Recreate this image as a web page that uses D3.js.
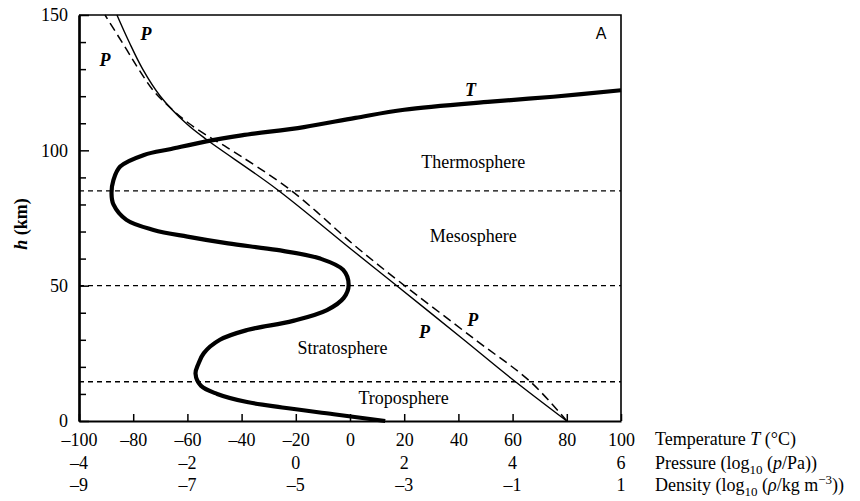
<!DOCTYPE html>
<html>
<head>
<meta charset="utf-8">
<script src="https://cdn.jsdelivr.net/npm/d3@7"></script>
<style>
  body { margin: 0; background: #fff; }
  text { font-family: "Liberation Serif", "Times New Roman", serif; fill: #000; }
</style>
</head>
<body>
<div id="chart"></div>
<script>
// chart values

// temperature profile (thick curve): altitude in km, temperature in degC
var tempAlt = [0, 2.5, 5, 7, 10, 13, 17.5, 21, 25, 30, 33.6, 37, 41, 45.5, 50.2, 55.8, 60, 63.2, 65.6, 68.1, 70.6, 74.3, 80, 84, 89, 94, 98.3, 100.5, 103.3, 105.5, 108.6, 112, 115, 118, 119.8, 122.2];
var tempVal = [13, -6, -25, -38, -49, -55, -57, -56, -54, -48, -38, -21, -8.5, -2.3, -0.5, -2.5, -11, -27, -45, -60, -72.5, -82.5, -87.3, -88, -87.3, -84.8, -76, -66, -53, -40, -17, 2, 20, 52, 75, 100];

// solid P curve
var solidAlt = [0, 15.9, 30, 51, 63, 86, 103.8, 110, 120, 130, 140, 150];
var solidVal = [80, 59.3, 42, 16, 1, -27.5, -52.7, -60.5, -70, -76.5, -81.5, -86];

// dashed P curve
var dashAlt = [0, 14.4, 30, 52, 65, 85, 101, 105, 110, 115, 122, 130, 137, 150];
var dashVal = [80, 66.7, 46.3, 17.6, 1.5, -21.5, -45.3, -52, -59.5, -65.5, -72.5, -78, -82.3, -90.4];

// layer boundaries (km)
var boundaries = [14.5, 50, 85];

// layer names
var layerNames = ["Troposphere", "Stratosphere", "Mesosphere", "Thermosphere"];
var layerT = [19.8, -2.8, 45.5, 45.5];
var layerH = [6.3, 24.7, 66, 93.5];

// tick labels
var tempTicks = [-100, -80, -60, -40, -20, 0, 20, 40, 60, 80, 100];
var pressureTicks = [-4, -2, 0, 2, 4, 6];
var densityTicks = [-9, -7, -5, -3, -1, 1];
var heightTicks = [0, 50, 100, 150];
var heightMinor = [10, 20, 30, 40, 60, 70, 80, 90, 110, 120, 130, 140];

// set svg and dimensions
var svgWidth = 860;
var svgHeight = 501;
var chartMargin = { top: 15, right: 239, bottom: 80, left: 79 };
var chartWidth = svgWidth - chartMargin.left - chartMargin.right;
var chartHeight = svgHeight - chartMargin.top - chartMargin.bottom;

var svg = d3.select("#chart")
    .append("svg")
    .attr("width", svgWidth)
    .attr("height", svgHeight);

var chartGroup = svg.append("g")
    .attr("transform", `translate(${chartMargin.left}, ${chartMargin.top})`);

// scales
var xScale = d3.scaleLinear().domain([-100, 100]).range([0, chartWidth]);
var pScale = d3.scaleLinear().domain([-4, 6]).range([0, chartWidth]);
var dScale = d3.scaleLinear().domain([-9, 1]).range([0, chartWidth]);
var yScale = d3.scaleLinear().domain([0, 150]).range([chartHeight, 0]);

var minus = d => d < 0 ? "\u2013" + Math.abs(d) : "" + d;

// dashed layer boundaries
chartGroup.selectAll(".boundary")
    .data(boundaries)
    .enter()
    .append("line")
    .attr("x1", 0)
    .attr("x2", chartWidth)
    .attr("y1", d => yScale(d))
    .attr("y2", d => yScale(d))
    .attr("stroke", "#000")
    .attr("stroke-width", 1.3)
    .attr("stroke-dasharray", "5,4");

// profile lines, altitude on y
function profile(alt, val) {
    return d3.line()
        .x((d, i) => xScale(val[i]))
        .y(d => yScale(d))
        .curve(d3.curveCatmullRom.alpha(0.5))(alt);
}

chartGroup.append("path")
    .attr("d", profile(dashAlt, dashVal))
    .attr("fill", "none")
    .attr("stroke", "#000")
    .attr("stroke-width", 1.5)
    .attr("stroke-dasharray", "9,5");

chartGroup.append("path")
    .attr("d", profile(solidAlt, solidVal))
    .attr("fill", "none")
    .attr("stroke", "#000")
    .attr("stroke-width", 1.4);

chartGroup.append("path")
    .attr("d", profile(tempAlt, tempVal))
    .attr("fill", "none")
    .attr("stroke", "#000")
    .attr("stroke-width", 4.2);

// top and right border
chartGroup.append("path")
    .attr("d", `M0,0H${chartWidth}V${chartHeight}`)
    .attr("fill", "none")
    .attr("stroke", "#000")
    .attr("stroke-width", 1.6);

// axes, ticks pointing inward
var yMinor = d3.axisLeft(yScale).tickValues(heightMinor).tickSizeInner(-7).tickSizeOuter(0).tickFormat("");
var yAxis = d3.axisLeft(yScale).tickValues(heightTicks).tickSizeInner(-10).tickSizeOuter(0).tickPadding(11);
var xAxis = d3.axisBottom(xScale).tickValues(tempTicks).tickSizeInner(-7).tickSizeOuter(0).tickPadding(12).tickFormat(minus);

chartGroup.append("g").attr("class", "axis").call(yMinor);
chartGroup.append("g").attr("class", "axis").call(yAxis);
chartGroup.append("g").attr("class", "axis")
    .attr("transform", `translate(0, ${chartHeight})`)
    .call(xAxis);

chartGroup.selectAll(".axis path").attr("stroke", "#000").attr("stroke-width", 2.2);
chartGroup.selectAll(".axis line").attr("stroke", "#000").attr("stroke-width", 1.5);
chartGroup.selectAll(".axis text").style("font-family", "'Liberation Serif', serif").attr("font-size", "18px");

// second and third rows of bottom labels
chartGroup.selectAll(".ptick")
    .data(pressureTicks)
    .enter()
    .append("text")
    .attr("x", d => pScale(d))
    .attr("y", chartHeight + 48)
    .attr("text-anchor", "middle")
    .attr("font-size", "18px")
    .text(minus);

chartGroup.selectAll(".dtick")
    .data(densityTicks)
    .enter()
    .append("text")
    .attr("x", d => dScale(d))
    .attr("y", chartHeight + 70)
    .attr("text-anchor", "middle")
    .attr("font-size", "18px")
    .text(minus);

// row titles
var titleX = chartWidth + 34;
var t1 = chartGroup.append("text").attr("x", titleX).attr("y", chartHeight + 24).attr("font-size", "18px");
t1.append("tspan").text("Temperature ");
t1.append("tspan").attr("font-style", "italic").text("T");
t1.append("tspan").text(" (\u00b0C)");

var t2 = chartGroup.append("text").attr("x", titleX).attr("y", chartHeight + 48).attr("font-size", "18px");
t2.append("tspan").text("Pressure (log");
t2.append("tspan").attr("font-size", "13px").attr("dy", 5).text("10");
t2.append("tspan").attr("dy", -5).text(" (");
t2.append("tspan").attr("font-style", "italic").text("p");
t2.append("tspan").text("/Pa))");

var t3 = chartGroup.append("text").attr("x", titleX).attr("y", chartHeight + 70).attr("font-size", "18px");
t3.append("tspan").text("Density (log");
t3.append("tspan").attr("font-size", "13px").attr("dy", 5).text("10");
t3.append("tspan").attr("dy", -5).text(" (");
t3.append("tspan").attr("font-style", "italic").text("\u03c1");
t3.append("tspan").text("/kg m");
t3.append("tspan").attr("font-size", "13px").attr("dy", -7).text("\u22123");
t3.append("tspan").attr("dy", 7).text("))");

// y axis label
var yl = chartGroup.append("text")
    .attr("transform", `translate(${-52}, ${chartHeight / 2 + 6}) rotate(-90)`)
    .attr("text-anchor", "middle")
    .attr("font-size", "18px")
    .attr("font-weight", "bold");
yl.append("tspan").attr("font-style", "italic").text("h");
yl.append("tspan").text(" (km)");

// layer names
chartGroup.selectAll(".layer")
    .data(layerNames)
    .enter()
    .append("text")
    .attr("x", (d, i) => xScale(layerT[i]))
    .attr("y", (d, i) => yScale(layerH[i]))
    .attr("text-anchor", "middle")
    .attr("font-size", "18px")
    .text(d => d);

// curve labels
var curveLabels = [
    { text: "T", t: 44.5, h: 120 },
    { text: "P", t: -75.3, h: 140.7 },
    { text: "P", t: -90.4, h: 131 },
    { text: "P", t: 27.5, h: 30.5 },
    { text: "P", t: 45.3, h: 35 }
];
chartGroup.selectAll(".clabel")
    .data(curveLabels)
    .enter()
    .append("text")
    .attr("x", d => xScale(d.t))
    .attr("y", d => yScale(d.h))
    .attr("text-anchor", "middle")
    .attr("font-size", "18px")
    .attr("font-style", "italic")
    .attr("font-weight", "bold")
    .text(d => d.text);

// panel letter
chartGroup.append("text")
    .attr("x", chartWidth - 20)
    .attr("y", 24)
    .attr("text-anchor", "middle")
    .style("font-family", "'Liberation Sans', Arial, sans-serif")
    .attr("font-size", "16px")
    .text("A");
</script>
</body>
</html>
